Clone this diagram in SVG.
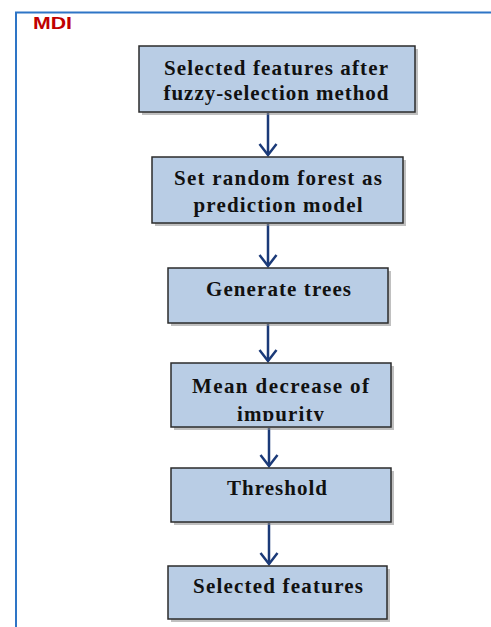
<svg xmlns="http://www.w3.org/2000/svg" width="491" height="627" viewBox="0 0 491 627">
<defs>
<style>
.box{fill:#b9cde5;stroke:#2b2b2b;stroke-width:1.5}
.sh{fill:#8c8c8c;opacity:0.55}
.t{font-family:"Liberation Serif","Times New Roman",serif;font-weight:bold;font-size:21px;fill:#111;text-anchor:middle}
.c{stroke:#1b3a78;stroke-width:2.5;fill:none}
</style>
<marker id="ah" markerWidth="16" markerHeight="20" viewBox="0 0 16 20" refX="14" refY="10" orient="auto" markerUnits="userSpaceOnUse">
<path d="M3 1.5 L14 10 L3 18.5" fill="none" stroke="#1b3a78" stroke-width="2.5"/>
</marker>
<clipPath id="clip4"><rect x="171" y="363" width="220" height="58"/></clipPath>
</defs>
<rect x="0" y="0" width="491" height="627" fill="#ffffff"/>
<path d="M16 627 V12.5 H491" fill="none" stroke="#2e75c6" stroke-width="2"/>
<text x="33" y="29" font-family="'Liberation Sans',Arial,sans-serif" font-weight="bold" font-size="17" fill="#c00000" textLength="39" lengthAdjust="spacingAndGlyphs">MDI</text>

<g id="connectors">
<line class="c" x1="268" y1="113" x2="268" y2="155" marker-end="url(#ah)"/>
<line class="c" x1="268" y1="224" x2="268" y2="266" marker-end="url(#ah)"/>
<line class="c" x1="268" y1="324" x2="268" y2="361" marker-end="url(#ah)"/>
<line class="c" x1="269" y1="428" x2="269" y2="466" marker-end="url(#ah)"/>
<line class="c" x1="269" y1="523" x2="269" y2="564" marker-end="url(#ah)"/>
</g>

<g id="n1">
<rect class="sh" x="142" y="49" width="276" height="66"/>
<rect class="box" x="139" y="46" width="276" height="66"/>
<text class="t" x="276" y="75" textLength="224" lengthAdjust="spacing">Selected features after</text>
<text class="t" x="276" y="100" textLength="225" lengthAdjust="spacing">fuzzy-selection method</text>
</g>
<g id="n2">
<rect class="sh" x="155" y="160" width="251" height="66"/>
<rect class="box" x="152" y="157" width="251" height="66"/>
<text class="t" x="278" y="185" textLength="208" lengthAdjust="spacing">Set random forest as</text>
<text class="t" x="278" y="212" textLength="169" lengthAdjust="spacing">prediction model</text>
</g>
<g id="n3">
<rect class="sh" x="171" y="271" width="220" height="55"/>
<rect class="box" x="168" y="268" width="220" height="55"/>
<text class="t" x="278.5" y="296" textLength="145" lengthAdjust="spacing">Generate trees</text>
</g>
<g id="n4">
<rect class="sh" x="174" y="366" width="220" height="64"/>
<rect class="box" x="171" y="363" width="220" height="64"/>
<text class="t" x="280.5" y="393" textLength="177" lengthAdjust="spacing">Mean decrease of</text>
<text class="t" x="280.5" y="421" textLength="87" lengthAdjust="spacing" clip-path="url(#clip4)">impurity</text>
</g>
<g id="n5">
<rect class="sh" x="174" y="471" width="220" height="54"/>
<rect class="box" x="171" y="468" width="220" height="54"/>
<text class="t" x="277" y="495" textLength="100" lengthAdjust="spacing">Threshold</text>
</g>
<g id="n6">
<rect class="sh" x="171" y="569" width="219" height="53"/>
<rect class="box" x="168" y="566" width="219" height="53"/>
<text class="t" x="278" y="593" textLength="170" lengthAdjust="spacing">Selected features</text>
</g>
</svg>
